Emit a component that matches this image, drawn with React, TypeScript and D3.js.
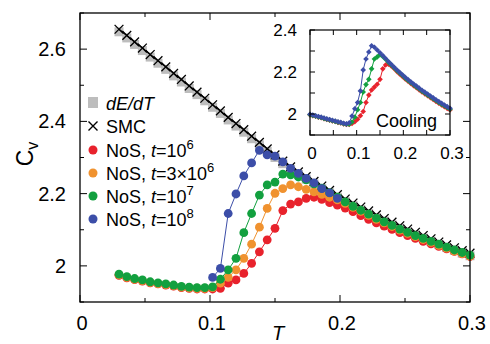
import React from "react";
import * as d3 from "d3";

// ---------- DATA ----------
const T_MAIN = [0.03,0.036,0.042,0.048,0.054,0.06,0.066,0.072,0.078,0.084,0.09,0.096,0.102,0.108,0.114,0.12,0.126,0.132,0.138,0.144,0.15,0.156,0.162,0.168,0.174,0.18,0.186,0.192,0.198,0.204,0.21,0.216,0.222,0.228,0.234,0.24,0.246,0.252,0.258,0.264,0.27,0.276,0.282,0.288,0.294,0.3];

const SMC = [2.655,2.638,2.620,2.603,2.585,2.568,2.551,2.533,2.516,2.498,2.481,2.464,2.446,2.429,2.411,2.394,2.377,2.359,2.342,2.324,2.307,2.290,2.274,2.260,2.247,2.234,2.221,2.209,2.197,2.185,2.174,2.163,2.152,2.141,2.131,2.121,2.111,2.102,2.093,2.084,2.075,2.066,2.058,2.050,2.042,2.035];

const DEDT = [2.648,2.631,2.613,2.596,2.578,2.561,2.544,2.526,2.509,2.491,2.474,2.457,2.439,2.422,2.404,2.387,2.370,2.352,2.335,2.317,2.300,2.283,2.267,2.253,2.240,2.227,2.214,2.202,2.190,2.178,2.167,2.156,2.145,2.134,2.124,2.114,2.104,2.095,2.086,2.077,2.068,2.059,2.051,2.043,2.035,2.028];

const NOS_1E6 = [1.974,1.967,1.962,1.958,1.953,1.950,1.947,1.944,1.940,1.938,1.936,1.936,1.936,1.938,1.952,1.961,1.979,2.007,2.039,2.072,2.104,2.153,2.171,2.177,2.187,2.190,2.184,2.175,2.168,2.160,2.150,2.139,2.129,2.119,2.110,2.101,2.092,2.084,2.076,2.068,2.061,2.054,2.047,2.040,2.033,2.026];

const NOS_3E6 = [1.975,1.968,1.963,1.959,1.954,1.951,1.948,1.945,1.941,1.939,1.938,1.938,1.940,1.952,1.968,1.989,2.021,2.060,2.107,2.159,2.201,2.214,2.224,2.219,2.212,2.205,2.198,2.190,2.183,2.173,2.162,2.151,2.140,2.129,2.119,2.109,2.099,2.090,2.081,2.073,2.065,2.057,2.049,2.041,2.034,2.027];

const NOS_1E7 = [1.977,1.970,1.965,1.961,1.956,1.953,1.950,1.947,1.943,1.941,1.940,1.940,1.942,1.963,1.989,2.021,2.092,2.145,2.196,2.224,2.232,2.254,2.252,2.246,2.238,2.227,2.215,2.203,2.190,2.177,2.165,2.154,2.143,2.132,2.122,2.112,2.102,2.093,2.084,2.076,2.068,2.060,2.052,2.044,2.037,2.030];

const T_1E8 = [0.102,0.108,0.114,0.12,0.126,0.132,0.138,0.144,0.15,0.156,0.162,0.168,0.174,0.18,0.186,0.192,0.198];
const NOS_1E8 = [1.968,1.993,2.145,2.199,2.249,2.285,2.320,2.307,2.304,2.288,2.270,2.256,2.242,2.230,2.214,2.202,2.187];

// inset (cooling)
const T_INSET = [0,0.006,0.012,0.018,0.024,0.03,0.036,0.042,0.048,0.054,0.06,0.066,0.072,0.078,0.084,0.09,0.096,0.102,0.108,0.114,0.12,0.126,0.132,0.138,0.144,0.15,0.156,0.162,0.168,0.174,0.18,0.186,0.192,0.198,0.204,0.21,0.216,0.222,0.228,0.234,0.24,0.246,0.252,0.258,0.264,0.27,0.276,0.282,0.288,0.294,0.3];

const COOL_1E6 = [1.996,1.992,1.989,1.985,1.982,1.978,1.974,1.971,1.967,1.964,1.960,1.957,1.953,1.950,1.950,1.955,1.963,1.975,1.992,2.012,2.055,2.090,2.114,2.128,2.142,2.165,2.215,2.233,2.237,2.229,2.217,2.203,2.191,2.179,2.167,2.156,2.145,2.135,2.125,2.115,2.105,2.096,2.087,2.078,2.069,2.060,2.051,2.043,2.035,2.027,2.019];

const COOL_1E7 = [1.997,1.993,1.990,1.986,1.983,1.979,1.975,1.972,1.968,1.965,1.961,1.958,1.954,1.951,1.952,1.962,1.985,2.020,2.055,2.105,2.140,2.165,2.215,2.262,2.272,2.282,2.274,2.261,2.246,2.233,2.220,2.207,2.195,2.183,2.171,2.160,2.149,2.139,2.129,2.119,2.109,2.100,2.091,2.082,2.073,2.064,2.055,2.047,2.039,2.031,2.023];

const COOL_1E8 = [1.999,1.995,1.992,1.988,1.985,1.981,1.977,1.974,1.970,1.967,1.963,1.960,1.956,1.953,1.958,1.990,2.025,2.055,2.110,2.210,2.262,2.295,2.325,2.318,2.305,2.292,2.278,2.264,2.250,2.237,2.224,2.211,2.199,2.187,2.175,2.164,2.153,2.143,2.133,2.123,2.113,2.104,2.095,2.086,2.077,2.068,2.059,2.051,2.043,2.035,2.027];

const X_TICKS = [0, 0.1, 0.2, 0.3];
const X_LABELS = ["0", "0.1", "0.2", "0.3"];
const Y_TICKS = [2, 2.2, 2.4, 2.6];
const Y_LABELS = ["2", "2.2", "2.4", "2.6"];
const INSET_X_TICKS = [0, 0.1, 0.2, 0.3];
const INSET_X_LABELS = ["0", "0.1", "0.2", "0.3"];
const INSET_Y_TICKS = [2, 2.2, 2.4];
const INSET_Y_LABELS = ["2", "2.2", "2.4"];

const RED = "#e8222c";
const ORANGE = "#f0922f";
const GREEN = "#12a03f";
const BLUE = "#3c4ea8";
const GRAY = "#bdbdbd";
const FONT = "'Liberation Sans', Arial, Helvetica, sans-serif";

export default function App() {
  const W = 490, H = 344;
  const L = 80, R = 470, TOP = 13, B = 302;
  const x = d3.scaleLinear().domain([0, 0.3]).range([L, R]);
  const y = d3.scaleLinear().domain([1.9, 2.7]).range([B, TOP]);

  const iL = 310, iR = 450, iT = 30, iB = 135;
  const xi = d3.scaleLinear().domain([0, 0.3]).range([iL, iR]);
  const yi = d3.scaleLinear().domain([1.9, 2.4]).range([iB, iT]);

  const mainLine = (ts: number[], vs: number[]) =>
    d3.line<number>().x((_, i) => x(ts[i])).y((v) => y(v))(vs) || "";
  const insetLine = (vs: number[]) =>
    d3.line<number>().x((_, i) => xi(T_INSET[i])).y((v) => yi(v))(vs) || "";

  const series = [
    { ts: T_MAIN, vs: NOS_1E6, c: RED },
    { ts: T_MAIN, vs: NOS_3E6, c: ORANGE },
    { ts: T_MAIN, vs: NOS_1E7, c: GREEN },
    { ts: T_1E8, vs: NOS_1E8, c: BLUE },
  ];
  const insetSeries = [
    { vs: COOL_1E6, c: RED },
    { vs: COOL_1E7, c: GREEN },
    { vs: COOL_1E8, c: BLUE },
  ];

  const xMinor = d3.range(0, 0.3001, 0.05);
  const yMinor = d3.range(1.9, 2.7001, 0.1);
  const ixMinor = d3.range(0, 0.3001, 0.05);
  const iyMinor = d3.range(1.9, 2.4001, 0.1);

  const cross = (cx: number, cy: number, s: number) =>
    `M${cx - s},${cy - s}L${cx + s},${cy + s}M${cx - s},${cy + s}L${cx + s},${cy - s}`;
  const diamond = (cx: number, cy: number, s: number) =>
    `M${cx},${cy - s}L${cx + s},${cy}L${cx},${cy + s}L${cx - s},${cy}Z`;

  const legendY = [103, 126, 150, 173, 196, 219];
  const lx = 93, tx = 106;

  return (
    <svg width={W} height={H} style={{ position: "absolute", left: 0, top: 0, background: "#fff" }} fontFamily={FONT}>
      <rect x={0} y={0} width={W} height={H} fill="#fff" />
      {/* dE/dT gray squares */}
      {DEDT.map((v, i) => (
        <rect key={"g" + i} x={x(T_MAIN[i]) - 4.5} y={y(v) - 4.5} width={9} height={9} fill={GRAY} />
      ))}
      {/* SMC */}
      <path d={mainLine(T_MAIN, SMC)} fill="none" stroke="#000" strokeWidth={1.3} />
      {SMC.map((v, i) => (
        <path key={"s" + i} d={cross(x(T_MAIN[i]), y(v), 4.4)} stroke="#000" strokeWidth={1.3} fill="none" />
      ))}
      {/* NoS series */}
      {series.map((s, k) => (
        <g key={"ser" + k}>
          <path d={mainLine(s.ts, s.vs)} fill="none" stroke={s.c} strokeWidth={1} />
          {s.vs.map((v, i) => (
            <circle key={i} cx={x(s.ts[i])} cy={y(v)} r={4.4} fill={s.c} />
          ))}
        </g>
      ))}

      {/* main frame */}
      <rect x={L} y={TOP} width={R - L} height={B - TOP} fill="none" stroke="#000" strokeWidth={1.3} />
      {xMinor.map((t, i) => {
        const major = Math.abs((t * 10) - Math.round(t * 10)) < 1e-6;
        const len = major ? 7 : 4;
        return (
          <g key={"xt" + i}>
            <line x1={x(t)} x2={x(t)} y1={B} y2={B - len} stroke="#000" strokeWidth={1} />
            <line x1={x(t)} x2={x(t)} y1={TOP} y2={TOP + len} stroke="#000" strokeWidth={1} />
          </g>
        );
      })}
      {yMinor.map((v, i) => {
        const major = Math.abs((v * 5) - Math.round(v * 5)) < 1e-6;
        const len = major ? 7 : 4;
        return (
          <g key={"yt" + i}>
            <line x1={L} x2={L + len} y1={y(v)} y2={y(v)} stroke="#000" strokeWidth={1} />
            <line x1={R} x2={R - len} y1={y(v)} y2={y(v)} stroke="#000" strokeWidth={1} />
          </g>
        );
      })}
      {X_TICKS.map((t, i) => (
        <text key={"xl" + i} x={x(t) + 2} y={330} fontSize={20} textAnchor="middle">{X_LABELS[i]}</text>
      ))}
      {Y_TICKS.map((v, i) => (
        <text key={"yl" + i} x={66} y={y(v) + 7} fontSize={20} textAnchor="end">{Y_LABELS[i]}</text>
      ))}
      <text x={x(0.15) + 3} y={340} fontSize={20} fontStyle="italic" textAnchor="middle">T</text>
      <text transform="translate(33,154) rotate(-90)" fontSize={23} textAnchor="middle">
        C<tspan fontSize={16} dy={5}>v</tspan>
      </text>

      {/* legend */}
      <rect x={lx - 5} y={legendY[0] - 6} width={10} height={11} fill={GRAY} />
      <text x={tx} y={legendY[0] + 7} fontSize={18} fontStyle="italic">dE/dT</text>
      <path d={cross(lx, legendY[1], 4.5)} stroke="#000" strokeWidth={1.4} />
      <text x={tx} y={legendY[1] + 7} fontSize={18}>SMC</text>
      {[RED, ORANGE, GREEN, BLUE].map((c, k) => (
        <circle key={"lc" + k} cx={lx} cy={legendY[2 + k]} r={4.5} fill={c} />
      ))}
      <text x={tx} y={legendY[2] + 7} fontSize={18}>
        NoS, <tspan fontStyle="italic">t</tspan>=10<tspan fontSize={13} dy={-8}>6</tspan>
      </text>
      <text x={tx} y={legendY[3] + 7} fontSize={18}>
        NoS, <tspan fontStyle="italic">t</tspan>=3×10<tspan fontSize={13} dy={-8}>6</tspan>
      </text>
      <text x={tx} y={legendY[4] + 7} fontSize={18}>
        NoS, <tspan fontStyle="italic">t</tspan>=10<tspan fontSize={13} dy={-8}>7</tspan>
      </text>
      <text x={tx} y={legendY[5] + 7} fontSize={18}>
        NoS, <tspan fontStyle="italic">t</tspan>=10<tspan fontSize={13} dy={-8}>8</tspan>
      </text>

      {/* inset */}
      <rect x={iL} y={iT} width={iR - iL} height={iB - iT} fill="#fff" />
      {insetSeries.map((s, k) => (
        <g key={"is" + k}>
          <path d={insetLine(s.vs)} fill="none" stroke={s.c} strokeWidth={1} />
          {s.vs.map((v, i) => (
            <path key={i} d={diamond(xi(T_INSET[i]), yi(v), 2.8)} fill={s.c} />
          ))}
        </g>
      ))}
      <rect x={iL} y={iT} width={iR - iL} height={iB - iT} fill="none" stroke="#000" strokeWidth={1.2} />
      {ixMinor.map((t, i) => (
        <g key={"ixt" + i}>
          <line x1={xi(t)} x2={xi(t)} y1={iB} y2={iB - 5} stroke="#000" strokeWidth={1} />
          <line x1={xi(t)} x2={xi(t)} y1={iT} y2={iT + 5} stroke="#000" strokeWidth={1} />
        </g>
      ))}
      {iyMinor.map((v, i) => (
        <g key={"iyt" + i}>
          <line x1={iL} x2={iL + 5} y1={yi(v)} y2={yi(v)} stroke="#000" strokeWidth={1} />
          <line x1={iR} x2={iR - 5} y1={yi(v)} y2={yi(v)} stroke="#000" strokeWidth={1} />
        </g>
      ))}
      {INSET_X_TICKS.map((t, i) => (
        <text key={"ixl" + i} x={xi(t) + 2} y={159} fontSize={17} textAnchor="middle">{INSET_X_LABELS[i]}</text>
      ))}
      {INSET_Y_TICKS.map((v, i) => (
        <text key={"iyl" + i} x={297} y={yi(v) + 6} fontSize={17} textAnchor="end">{INSET_Y_LABELS[i]}</text>
      ))}
      <text x={437} y={127} fontSize={18} textAnchor="end">Cooling</text>
    </svg>
  );
}
